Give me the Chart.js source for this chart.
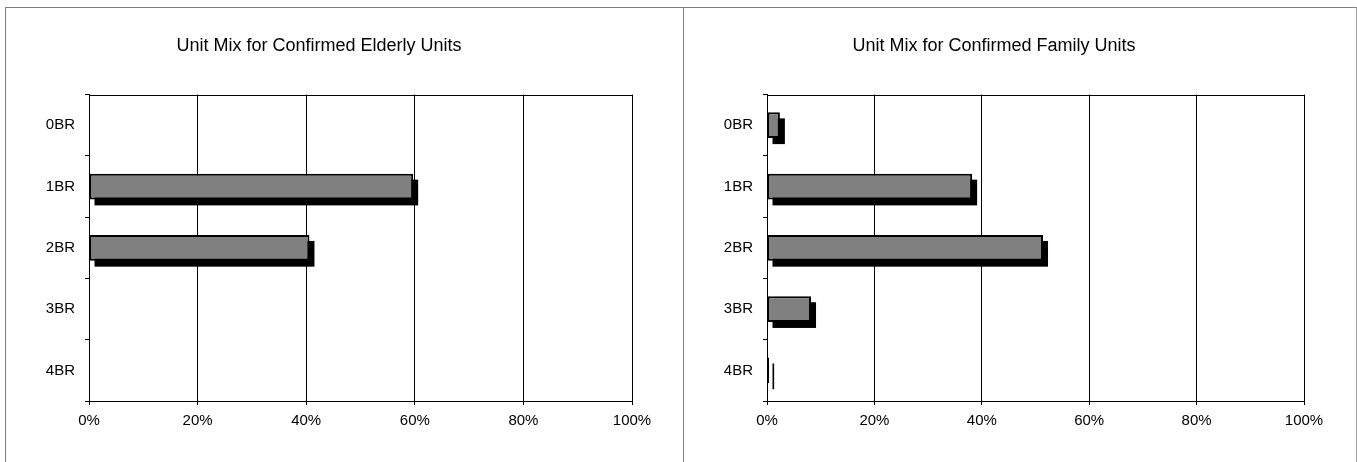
<!DOCTYPE html>
<html>
<head>
<meta charset="utf-8">
<script src="https://cdn.jsdelivr.net/npm/chart.js@4/dist/chart.umd.min.js"></script>
<style>
  html, body { margin: 0; padding: 0; background: #fff; }
  #wrap { position: relative; width: 1357px; height: 462px; overflow: hidden; background: #fff; }
  .panel { position: absolute; top: 7px; height: 470px; box-sizing: border-box; }
  #p1 { left: 5px; width: 679px; border-top: 1px solid #7f7f7f; border-left: 1px solid #7f7f7f; border-right: 1px solid #7f7f7f; }
  #p2 { left: 683px; width: 674px; border-top: 1px solid #7f7f7f; border-right: 1px solid #a6a6a6; }
  canvas { position: absolute; }
  #c1 { left: 6px; top: 8px; }
  #c2 { left: 684px; top: 8px; }
</style>
</head>
<body>
<div id="wrap">
  <div class="panel" id="p1"></div>
  <div class="panel" id="p2"></div>
  <canvas id="c1" width="677" height="454"></canvas>
  <canvas id="c2" width="671" height="454"></canvas>
</div>
<script>
// ---- data ----
const categories = ['0BR', '1BR', '2BR', '3BR', '4BR'];
const elderlyShare = [0, 59.7, 40.6, 0, 0];
const familyShare = [2.4, 38.2, 51.4, 8.2, 0.4];
const percentTicks = [0, 20, 40, 60, 80, 100];
const elderlyTitle = 'Unit Mix for Confirmed Elderly Units';
const familyTitle = 'Unit Mix for Confirmed Family Units';

Chart.defaults.font.family = "'Liberation Sans', Arial, sans-serif";
Chart.defaults.color = '#000';

const SHADOW = 6;

const shadowAndFrame = {
  id: 'shadowAndFrame',
  beforeDatasetsDraw(chart) {
    const ctx = chart.ctx;
    const a = chart.chartArea;
    ctx.save();
    ctx.fillStyle = '#000';
    chart.getDatasetMeta(0).data.forEach(el => {
      const p = el.getProps(['x', 'y', 'base', 'height'], true);
      const w = Math.abs(p.x - p.base);
      if (w < 0.01) return;
      ctx.fillRect(Math.min(p.x, p.base) + SHADOW - 1, p.y - p.height / 2 + SHADOW, w, p.height);
    });
    ctx.strokeStyle = '#000';
    ctx.lineWidth = 1;
    ctx.strokeRect(Math.round(a.left) + 0.5, Math.round(a.top) + 0.5,
                   Math.round(a.right - a.left), Math.round(a.bottom - a.top));
    ctx.restore();
  }
};

function makeChart(id, values, title, rightPad) {
  return new Chart(document.getElementById(id), {
    type: 'bar',
    data: {
      labels: categories,
      datasets: [{
        data: values,
        backgroundColor: '#808080',
        borderColor: '#000',
        borderWidth: 2,
        borderSkipped: false,
        categoryPercentage: 1,
        barPercentage: 0.42
      }]
    },
    options: {
      indexAxis: 'y',
      responsive: false,
      devicePixelRatio: 1,
      animation: false,
      layout: { padding: { left: 0, right: rightPad, top: 0, bottom: 0 } },
      plugins: {
        legend: { display: false },
        tooltip: { enabled: false },
        title: {
          display: true,
          text: title,
          font: { size: 18, weight: 'normal' },
          padding: { top: 27, bottom: 38 }
        }
      },
      scales: {
        x: {
          min: 0, max: 100,
          afterBuildTicks: s => { s.ticks = percentTicks.map(v => ({ value: v })); },
          afterFit: s => { s.height = 61; },
          ticks: { callback: v => v + '%', font: { size: 15 }, padding: 7, maxRotation: 0 },
          grid: { color: '#000', lineWidth: 1, tickLength: 4, drawTicks: true },
          border: { color: '#000', width: 1 }
        },
        y: {
          offset: true,
          afterFit: s => { s.width = 83; },
          ticks: { font: { size: 15 }, padding: 10 },
          grid: { offset: true, drawOnChartArea: false, color: '#000', tickLength: 4 },
          border: { color: '#000', width: 1 }
        }
      }
    },
    plugins: [shadowAndFrame]
  });
}

makeChart('c1', elderlyShare, elderlyTitle, 51);
makeChart('c2', familyShare, familyTitle, 51);
</script>
</body>
</html>
